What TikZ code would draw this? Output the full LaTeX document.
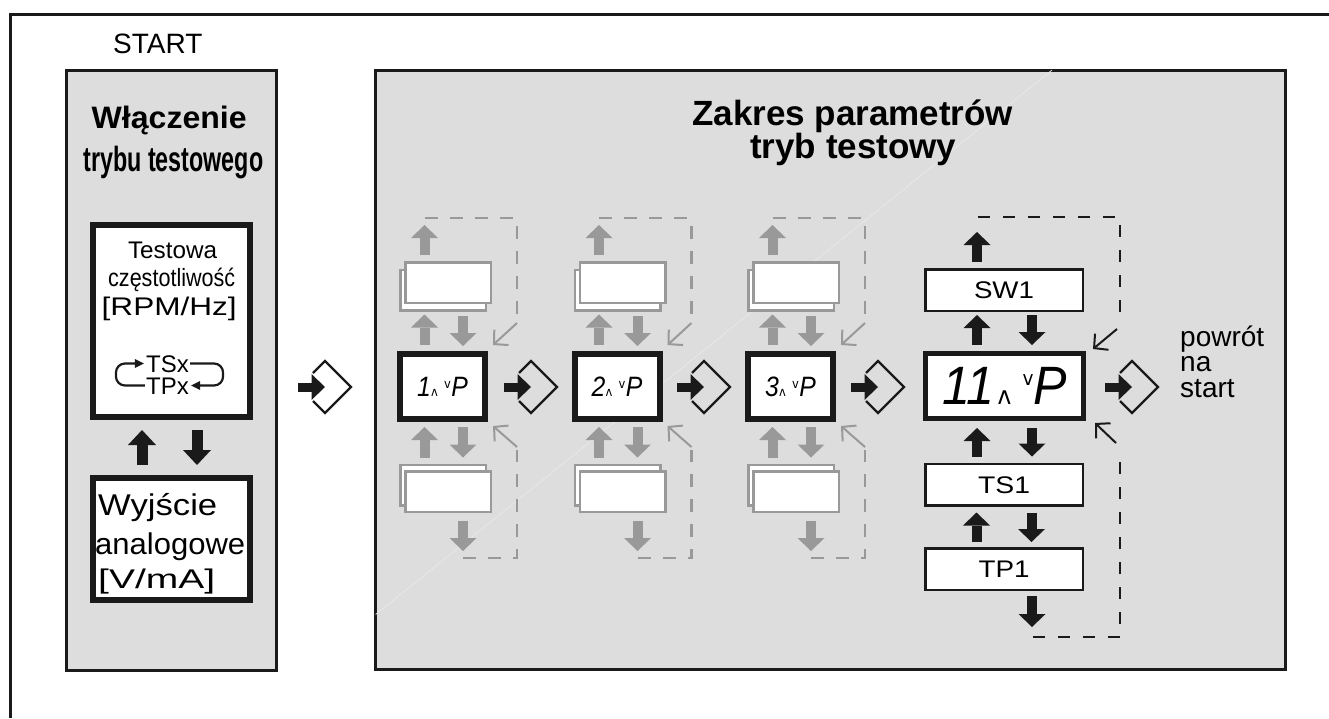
\documentclass[tikz,border=0pt]{standalone}
\usepackage{fontspec}
\usepackage{graphicx}
\setmainfont{Liberation Sans}
\newfontfamily\dejavu{DejaVu Sans}
\usetikzlibrary{arrows.meta,calc}
\definecolor{panelgray}{HTML}{DDDDDD}
\definecolor{ghost}{HTML}{999999}
\definecolor{ink}{HTML}{1A1A1A}
\definecolor{streak}{HTML}{E8E8E8}
\newcommand\fsz[1]{\fontsize{#1pt}{#1pt}\selectfont}
\newcommand\hw[2]{\resizebox{#1}{\height}{#2}}
\newcommand\dsmall[1]{\hw{51pt}{\fsz{28}\itshape #1\hspace{0.5pt}{\dejavu\upshape\fsz{13}ʌ}\hspace{7pt}\raisebox{8pt}{\dejavu\upshape\fsz{13}v}\hspace{0.5pt}P}}
\begin{document}
\begin{tikzpicture}[x=1pt,y=-1pt,
  panel/.style={draw=ink, line width=3pt, fill=panelgray, inner sep=0pt},
  blkbox/.style={draw=ink, line width=6pt, fill=white, inner sep=0pt},
  disp/.style={blkbox, minimum width=85pt, minimum height=65pt},
  ghostbox/.style={draw=ghost, line width=2.5pt, fill=white, minimum width=85.5pt, minimum height=40.5pt, inner sep=0pt},
  wbox/.style={draw=ink, line width=2.5pt, fill=white, minimum width=157.5pt, minimum height=41.5pt, inner sep=0pt, font=\fsz{24}, text height=17pt, text depth=0pt},
  txt/.style={inner sep=0pt, anchor=base},
  barrow/.style={draw=ink, line width=10pt, -{Triangle[length=13pt,width=27pt,line width=0pt]}},
  garrow/.style={barrow, draw=ghost},
  bigarrow/.style={draw=ink, line width=11pt, -{Triangle[length=15pt,width=28pt,line width=0pt]}},
  gdash/.style={draw=ghost, line width=2.5pt, dash pattern=on 13pt off 12pt},
  kdash/.style={draw=ink, line width=2.5pt, dash pattern=on 12pt off 13pt},
  gdiag/.style={draw=ghost, line width=2pt, -{Straight Barb[length=10pt,width=21pt]}},
  kdiag/.style={gdiag, draw=ink},
  loopline/.style={draw=ink, line width=2.2pt, rounded corners=9pt, -{Triangle[length=9pt,width=9pt,line width=0pt]}},
  entersym/.pic={
    \draw[ink, line width=2.2pt, line join=miter] (-12,-14) -- (0,-26) -- (26,0) -- (0,26) -- (-12,14);
    \fill[ink] (-27,-4.5) rectangle (-12,4.5);
    \fill[ink] (-13.5,-13) -- (0,0) -- (-13.5,13) -- cycle;
  }]
\useasboundingbox (0,0) rectangle (1329,718);
\fill[white] (0,0) rectangle (1329,718);
% outer frame
\coordinate (fbl) at (10,718);
\coordinate (ftl) at (10,14.5);
\coordinate (ftr) at (1329,14.5);
\draw[ink, line width=3pt, line join=miter] (fbl) -- (ftl) -- (ftr);

% panels
\node[panel, minimum width=210pt, minimum height=600pt] (lpanel) at (171.5,370.5) {};
\node[panel, minimum width=910pt, minimum height=599pt] (rpanel) at (830.5,370) {};
\begin{scope}
  \clip (375.5,70.5) rectangle (1285.5,669.5);
  \coordinate (s1) at (370,619);
  \coordinate (s2) at (1052,70);
  \draw[streak, line width=0.8pt] (s1) -- (s2);
\end{scope}

% left panel
\node[txt, anchor=base west, font=\fsz{28}] (start) at (113,53) {START};
\node[txt, font=\bfseries\fsz{31}] (t1) at (169.2,128.3) {\hw{155pt}{Włączenie}};
\node[txt, font=\bfseries\fsz{35}] (t2) at (173.3,171.7) {\hw{180pt}{trybu testowego}};

\node[blkbox, minimum width=157pt, minimum height=192pt] (freq) at (171.5,321) {};
\node[blkbox, minimum width=157pt, minimum height=122pt] (aout) at (171.5,539) {};

\node[txt, font=\fsz{24}] (tw) at (172.5,258) {\hw{89pt}{Testowa}};
\node[txt, font=\fsz{25}] (cz) at (171.7,286) {\hw{127pt}{częstotliwość}};
\node[txt, font=\fsz{25.5}] (rpm) at (169.2,315) {\hw{135pt}{[RPM/Hz]}};
\node[inner sep=0pt, font=\fsz{24}, text height=17pt, text depth=0pt] (tsx) at (167.5,363.5) {TSx};
\node[inner sep=0pt, font=\fsz{24}, text height=17pt, text depth=0pt] (tpx) at (167.5,385.5) {TPx};
\draw[loopline] ([xshift=-1pt]tpx.west) -- ++(-29,0) |- ([xshift=-2pt]tsx.west);
\draw[loopline] ([xshift=1pt]tsx.east) -- ++(33,0) |- ([xshift=2pt]tpx.east);

\node[txt, anchor=base west, font=\fsz{30}] (wy) at (98,515) {\hw{119pt}{Wyjście}};
\node[txt, anchor=base west, font=\fsz{30}] (an) at (95,554) {\hw{150pt}{analogowe}};
\node[txt, anchor=base west, font=\fsz{27}] (vm) at (98,588) {\hw{117pt}{[V/mA]}};

\draw[bigarrow, shorten <=10pt, shorten >=10pt] ([xshift=-29.5pt]aout.north) -- ([xshift=-29.5pt]freq.south);
\draw[bigarrow, shorten <=10pt, shorten >=10pt] ([xshift=25.5pt]freq.south) -- ([xshift=25.5pt]aout.north);

% right panel titles
\node[txt, anchor=base west, font=\bfseries\fsz{35}] (z1) at (692,125) {Zakres parametrów};
\node[txt, anchor=base west, font=\bfseries\fsz{35}] (z2) at (750,158) {tryb testowy};

% enter symbols
\pic (e0) at (325,387) {entersym};
\pic (e1) at (531,387) {entersym};
\pic (e2) at (704,387) {entersym};
\pic (e3) at (878,387) {entersym};
\pic (e4) at (1132,387) {entersym};

% ghost columns
\foreach \i/\c in {1/442.5,2/617,3/790.5}{
  \node[ghostbox] (tb\i) at (\c+0.5,290) {};
  \node[ghostbox] (tf\i) at (\c+5.5,282.5) {};
  \node[ghostbox] (bb\i) at (\c+0.5,485) {};
  \node[ghostbox] (bf\i) at (\c+5.5,491.5) {};
  \node[disp] (d\i) at (\c,386.5) {\dsmall{\i}};
  \coordinate (ut\i) at (\c-18,225);
  \coordinate (db\i) at (\c+20.5,551);
  \coordinate (dt\i) at (\c-18,218);
  \coordinate (dr\i) at (\c+74.5,318);
  \coordinate (dbb\i) at (\c+20.5,558);
  \coordinate (dbr\i) at (\c+74.5,450);
  \draw[garrow, shorten <=6pt] (ut\i |- tf\i.north) -- (ut\i);
  \draw[garrow, shorten <=6pt, shorten >=3pt] ([xshift=-18pt]d\i.north) -- ([xshift=-18pt]d\i.north |- tb\i.south);
  \draw[garrow, shorten <=4pt, shorten >=5pt] ([xshift=20.5pt]d\i.north |- tb\i.south) -- ([xshift=20.5pt]d\i.north);
  \draw[garrow, shorten <=6pt, shorten >=5pt] ([xshift=-18pt]d\i.south |- bb\i.north) -- ([xshift=-18pt]d\i.south);
  \draw[garrow, shorten <=5pt, shorten >=6pt] ([xshift=20.5pt]d\i.south) -- ([xshift=20.5pt]d\i.south |- bb\i.north);
  \draw[garrow, shorten <=8pt] (db\i |- bf\i.south) -- (db\i);
  \draw[gdash] (dt\i) -| (dr\i);
  \draw[gdash] (dbb\i) -| (dbr\i);
  \draw[gdiag] ($(d\i.north east)+(29,-28)$) -- ($(d\i.north east)+(5,-6)$);
  \draw[gdiag] ($(d\i.south east)+(29,25)$) -- ($(d\i.south east)+(5,4)$);
}

% main column
\node[draw=ink, line width=5pt, fill=white, inner sep=0pt, minimum width=158pt, minimum height=65pt] (d4) at (1004.5,386)
  {\hw{125pt}{\fsz{54}\itshape 11\hspace{4pt}{\dejavu\upshape\fsz{25}ʌ}\hspace{12pt}\raisebox{19pt}{\dejavu\upshape\fsz{20}v}P}};
\node[wbox] (sw1) at (1004,290) {\hw{60pt}{SW1}};
\node[wbox] (ts1) at (1004,484.5) {\hw{52pt}{TS1}};
\node[wbox] (tp1) at (1004,569) {\hw{51pt}{TP1}};
\coordinate (u4) at (977,232);
\coordinate (dn4) at (1032,627);
\draw[barrow, shorten <=6pt] (u4 |- sw1.north) -- (u4);
\draw[barrow, shorten <=6pt, shorten >=3pt] ([xshift=-27.5pt]d4.north) -- ([xshift=-27.5pt]d4.north |- sw1.south);
\draw[barrow, shorten <=3pt, shorten >=6pt] ([xshift=27.5pt]d4.north |- sw1.south) -- ([xshift=27.5pt]d4.north);
\draw[barrow, shorten <=6pt, shorten >=7pt] ([xshift=-27.5pt]d4.south |- ts1.north) -- ([xshift=-27.5pt]d4.south);
\draw[barrow, shorten <=7pt, shorten >=6pt] ([xshift=27.5pt]d4.south) -- ([xshift=27.5pt]d4.south |- ts1.north);
\draw[barrow, shorten <=5pt, shorten >=6pt] ([xshift=-27.5pt]ts1.south |- tp1.north) -- ([xshift=-27.5pt]ts1.south);
\draw[barrow, shorten <=6pt, shorten >=5pt] ([xshift=27.5pt]ts1.south) -- ([xshift=27.5pt]ts1.south |- tp1.north);
\draw[barrow, shorten <=5pt] (dn4 |- tp1.south) -- (dn4);
\coordinate (kt1) at (978,217);
\coordinate (kt2) at (1120,318);
\coordinate (kb1) at (1033,637);
\coordinate (kb2) at (1120,455);
\draw[kdash] (kt1) -| (kt2);
\draw[kdash] (kb1) -| (kb2);
\draw[kdiag] ($(d4.north east)+(31,-22)$) -- ($(d4.north east)+(7,-2)$);
\draw[kdiag] ($(d4.south east)+(30,22)$) -- ($(d4.south east)+(9,2)$);

\node[txt, anchor=base west, font=\fsz{28}] (pw1) at (1180,346) {powrót};
\node[txt, anchor=base west, font=\fsz{28}] (pw2) at (1180,371.5) {na};
\node[txt, anchor=base west, font=\fsz{28}] (pw3) at (1180,397) {start};
\end{tikzpicture}
\end{document}
